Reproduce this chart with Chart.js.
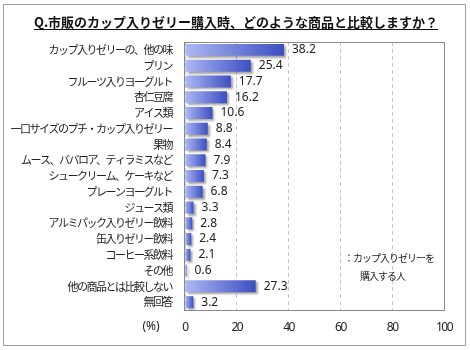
<!DOCTYPE html>
<html>
<head>
<meta charset="utf-8">
<script src="https://cdn.jsdelivr.net/npm/chart.js@4"></script>
<style>
html,body{margin:0;padding:0;background:#fff}
#wrap{width:470px;height:350px;position:relative}
</style>
</head>
<body>
<div id="wrap"><canvas id="c" width="470" height="350"></canvas></div>
<script>
const TITLE='Q.市販のカップ入りゼリー購入時、どのような商品と比較しますか？';
const categories=['カップ入りゼリーの、他の味','プリン','フルーツ入りヨーグルト','杏仁豆腐','アイス類','一口サイズのプチ・カップ入りゼリー','果物','ムース、ババロア、ティラミスなど','シュークリーム、ケーキなど','プレーンヨーグルト','ジュース類','アルミパック入りゼリー飲料','缶入りゼリー飲料','コーヒー系飲料','その他','他の商品とは比較しない','無回答'];
const values=[38.2,25.4,17.7,16.2,10.6,8.8,8.4,7.9,7.3,6.8,3.3,2.8,2.4,2.1,0.6,27.3,3.2];
const xTicks=[0,20,40,60,80,100];
const legendLines=['：カップ入りゼリーを','購入する人'];

const JP='"Noto Sans CJK JP", "Noto Sans", sans-serif';

function barFill(ctx){
  const chart=ctx.chart;
  const xs=chart.scales && chart.scales.x;
  if(!xs || ctx.dataIndex===undefined) return '#5566cc';
  const x0=xs.getPixelForValue(0);
  const x1=xs.getPixelForValue(values[ctx.dataIndex]);
  if(!isFinite(x0) || !isFinite(x1)) return '#5566cc';
  const g=chart.ctx.createLinearGradient(x0,0,Math.max(x1,x0+1),0);
  g.addColorStop(0,'#adb9f5');
  g.addColorStop(1,'#3d4fc1');
  return g;
}

const decor={
  id:'decor',
  beforeDraw(chart){
    const c=chart.ctx;
    c.save();
    c.fillStyle='#fff';
    c.fillRect(0,0,chart.width,chart.height);
    c.restore();
    c.letterSpacing='-1.5px';
  },
  beforeDatasetsDraw(chart){
    const c=chart.ctx;
    c.letterSpacing='0px';
    const a=chart.chartArea;
    c.save();
    c.strokeStyle='#8a8a8a';
    c.lineWidth=1;
    c.strokeRect(Math.round(a.left)-0.5,Math.round(a.top)+0.5,Math.round(a.right-a.left)+1,Math.round(a.bottom-a.top));
    c.restore();
    c.save();
    c.shadowColor='rgba(0,0,0,0.35)';
    c.shadowOffsetX=2;
    c.shadowOffsetY=2;
    c.shadowBlur=2;
  },
  afterDatasetsDraw(chart){
    const c=chart.ctx;
    c.restore();
    const meta=chart.getDatasetMeta(0);
    c.save();
    c.font='12px "Noto Sans", sans-serif';
    c.fillStyle='#222';
    c.textAlign='left';
    c.textBaseline='middle';
    meta.data.forEach((bar,i)=>{
      c.fillText(values[i].toFixed(1),bar.x+8,bar.y);
    });
    c.restore();
  },
  afterDraw(chart){
    const c=chart.ctx;
    c.save();
    // outer frame
    c.strokeStyle='#a0a0a0';
    c.lineWidth=1;
    c.strokeRect(3.5,4.5,462,341);
    // title
    c.font='bold 13px '+JP;
    c.fillStyle='#111';
    c.textAlign='center';
    c.textBaseline='middle';
    c.fillText(TITLE,236,22);
    const w=c.measureText(TITLE).width;
    c.strokeStyle='#111';
    c.beginPath();
    c.moveTo(236-w/2,29.5);
    c.lineTo(236+w/2,29.5);
    c.stroke();
    // unit
    c.font='12px "Noto Sans", sans-serif';
    c.fillStyle='#222';
    c.fillText('(%)',151,327);
    // legend note
    c.font='10px '+JP;
    c.letterSpacing='-1px';
    c.textAlign='left';
    c.fillText(legendLines[0],344,258);
    c.fillText(legendLines[1],360,276);
    c.restore();
  }
};

new Chart(document.getElementById('c'),{
  type:'bar',
  data:{labels:categories,datasets:[{data:values,backgroundColor:barFill,borderWidth:0,categoryPercentage:0.76,barPercentage:1}]},
  options:{
    indexAxis:'y',
    responsive:false,
    animation:false,
    layout:{padding:{top:42,right:26,left:0,bottom:0}},
    plugins:{legend:{display:false},tooltip:{enabled:false},title:{display:false}},
    scales:{
      x:{
        min:0,max:100,
        afterFit(s){s.height=40;},
        afterBuildTicks(s){s.ticks=xTicks.map(v=>({value:v}));},
        ticks:{padding:10,color:'#222',font:{size:12,family:'"Noto Sans", sans-serif'}},
        grid:{color:'#c8c8c8',drawTicks:false},
        border:{display:false,dash:[4,3]}
      },
      y:{
        afterFit(s){s.width=185;},
        ticks:{padding:13,color:'#222',autoSkip:false,font:{size:11,family:JP}},
        grid:{display:false,drawTicks:false},
        border:{display:false}
      }
    }
  },
  plugins:[decor]
});
</script>
</body>
</html>
